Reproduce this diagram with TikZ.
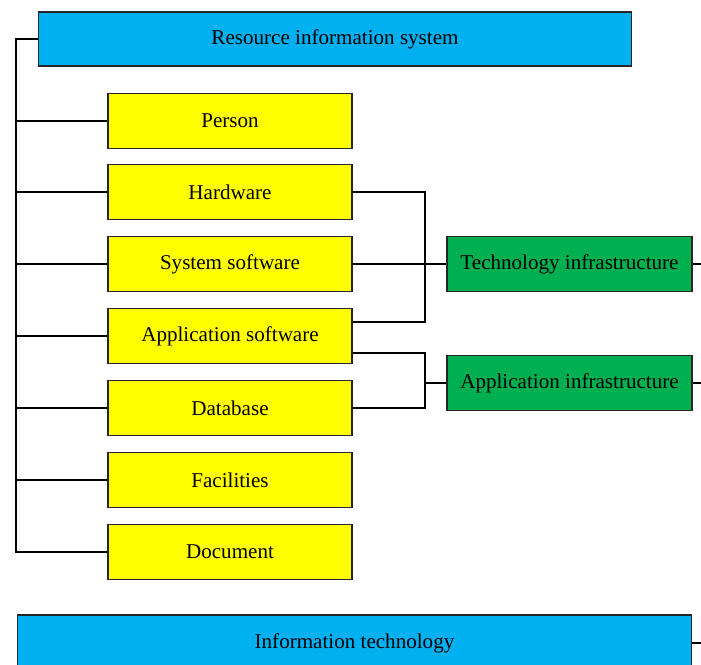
\documentclass[tikz,border=0pt]{standalone}
\usepackage{fontspec}
\setmainfont{Liberation Serif}
\usetikzlibrary{positioning}

\begin{document}
\begin{tikzpicture}[x=0.02cm,y=-0.02cm,
  every node/.style={font=\fontsize{12}{14}\selectfont, inner sep=0pt},
  sysbox/.style={draw=black!85, line width=0.6pt, fill=syscyan, minimum height=1.08cm},
  partbox/.style={draw=black!85, line width=0.6pt, fill=partyellow, minimum width=4.88cm, minimum height=1.1cm},
  infrabox/.style={draw=black!85, line width=0.6pt, fill=infragreen, minimum width=4.9cm, minimum height=1.1cm},
  link/.style={draw=black, line width=0.6pt}]
\definecolor{syscyan}{HTML}{00B0F0}
\definecolor{partyellow}{HTML}{FFFF00}
\definecolor{infragreen}{HTML}{00B050}
\useasboundingbox (0,0) rectangle (701,665);
% top and bottom boxes
\node[sysbox, minimum width=11.88cm] (RIS) at (335,39) {Resource information system};
\node[sysbox, minimum width=13.5cm, minimum height=1.12cm] (IT) at (354.5,643) {Information technology};
% resource parts
\node[partbox] (Person) at (230,121) {Person};
\node[partbox] (Hardware) at (230,192) {Hardware};
\node[partbox] (SysSoft) at (230,264) {System software};
\node[partbox] (AppSoft) at (230,336) {Application software};
\node[partbox] (Database) at (230,408) {Database};
\node[partbox] (Facilities) at (230,480) {Facilities};
\node[partbox] (Document) at (230,552) {Document};
% infrastructures
\node[infrabox] (TechInf) at (569.5,264) {Technology infrastructure};
\node[infrabox] (AppInf) at (569.5,383) {Application infrastructure};
% spine on the left
\coordinate (Spine) at (16,39);
\draw[link] (RIS.west) -- (Spine) |- (Document.west);
\foreach \p in {Person,Hardware,SysSoft,AppSoft,Database,Facilities}
  \draw[link] (Spine) |- (\p.west);
% brackets to the infrastructures
\coordinate (TechJoin) at (425,264);
\coordinate (AppJoin) at (425,383);
\draw[link] (Hardware.east) -| (TechJoin) |- ([yshift=0.28cm]AppSoft.east);
\draw[link] (SysSoft.east) -- (TechInf.west);
\draw[link] ([yshift=-0.34cm]AppSoft.east) -| (AppJoin) |- (Database.east);
\draw[link] (AppJoin) -- (AppInf.west);
% stubs on the right edge
\coordinate (TechOut) at (702,264);
\coordinate (AppOut) at (702,383);
\coordinate (ITOut) at (702,643);
\draw[link] (TechInf.east) -- (TechOut);
\draw[link] (AppInf.east) -- (AppOut);
\draw[link] (IT.east) -- (ITOut);
\end{tikzpicture}
\end{document}
